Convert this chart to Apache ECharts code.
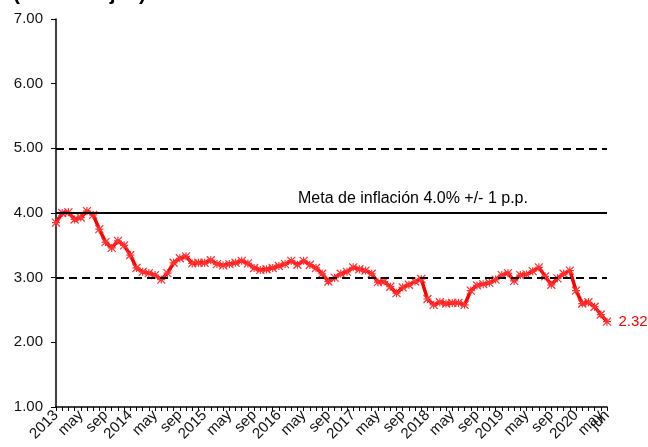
<!DOCTYPE html>
<html lang="es">
<head>
    <meta charset="UTF-8">
    <title>Inflación</title>
    <style>
        html, body { margin: 0; padding: 0; background: #fff; }
        #main { width: 648px; height: 447px; }
    </style>
</head>
<body>
<div id="main"></div>
<script src="https://cdn.jsdelivr.net/npm/echarts@6/dist/echarts.min.js"></script>
<script>
    // datos
    var years = [2013, 2014, 2015, 2016, 2017, 2018, 2019, 2020];
    var monthNames = ['ene','feb','mar','abr','may','jun','jul','ago','sep','oct','nov','dic'];
    var lastMonth = 6; // jun 2020
    var values = [
        3.85, 4.00, 4.01, 3.90, 3.93, 4.03, 3.97, 3.75, 3.55, 3.46, 3.57, 3.50,
        3.35, 3.15, 3.09, 3.07, 3.04, 2.97, 3.07, 3.23, 3.30, 3.33, 3.22, 3.23,
        3.23, 3.27, 3.21, 3.19, 3.21, 3.23, 3.26, 3.22, 3.15, 3.12, 3.13, 3.15,
        3.18, 3.21, 3.26, 3.20, 3.26, 3.20, 3.15, 3.06, 2.94, 3.00, 3.06, 3.09,
        3.16, 3.13, 3.11, 3.06, 2.93, 2.94, 2.86, 2.76, 2.85, 2.89, 2.94, 2.98,
        2.67, 2.58, 2.62, 2.60, 2.61, 2.61, 2.58, 2.80, 2.88, 2.90, 2.92, 2.97,
        3.04, 3.07, 2.95, 3.04, 3.05, 3.10, 3.16, 3.02, 2.89, 2.99, 3.06, 3.11,
        2.80, 2.60, 2.62, 2.55, 2.43, 2.32
    ];
    var metaCentro = 4;
    var rangoInf = 3;
    var rangoSup = 5;
    var metaTexto = 'Meta de inflación 4.0% +/- 1 p.p.';

    var categories = [];
    years.forEach(function (y) {
        for (var m = 0; m < 12; m++) {
            if (y === 2020 && m >= lastMonth) break;
            categories.push(m === 0 ? String(y) : monthNames[m]);
        }
    });

    var lastIdx = values.length - 1;
    var seriesData = values.map(function (v, i) {
        if (i !== lastIdx) return v;
        return {
            value: v,
            label: {
                show: true, position: 'right', distance: 5,
                formatter: v.toFixed(2), color: '#ff0000',
                fontSize: 15, fontFamily: 'Liberation Sans'
            }
        };
    });

    var labelStyle = { rotate: 45, fontSize: 15, color: '#111', margin: 6 };

    var chart = echarts.init(document.getElementById('main'));
    chart.setOption({
        animation: false,
        textStyle: { fontFamily: 'Liberation Sans' },
        title: {
            text: '(Porcentajes)',
            left: 8, top: -21,
            textStyle: { fontSize: 21, fontWeight: 'bold', color: '#000', fontFamily: 'Liberation Sans' }
        },
        grid: { left: 56, right: 41, top: 19, bottom: 40, containLabel: false },
        xAxis: [{
            type: 'category',
            data: categories,
            boundaryGap: false,
            axisLine: { lineStyle: { color: '#000', width: 1.5 } },
            axisTick: { show: true, interval: 0, length: 4, lineStyle: { color: '#000' } },
            axisLabel: Object.assign({}, labelStyle, {
                interval: function (i) { return i % 4 === 0; }
            }),
            splitLine: { show: false }
        }, {
            // solo la etiqueta del último mes (se superpone con "may")
            type: 'category',
            data: categories,
            boundaryGap: false,
            position: 'bottom',
            axisLine: { show: false },
            axisTick: { show: false },
            axisLabel: Object.assign({}, labelStyle, {
                interval: function (i) { return i === lastIdx; }
            }),
            splitLine: { show: false }
        }],
        yAxis: {
            type: 'value',
            min: 1, max: 7, interval: 1,
            axisLine: { show: true, lineStyle: { color: '#000', width: 1.5 } },
            axisTick: { show: true, length: 5, lineStyle: { color: '#000' } },
            axisLabel: { fontSize: 15, color: '#111', margin: 13, formatter: function (v) { return v.toFixed(2); } },
            splitLine: { show: false }
        },
        graphic: [{
            type: 'text',
            left: 298, top: 191,
            style: { text: metaTexto, fontSize: 16, fill: '#000', fontFamily: 'Liberation Sans' }
        }],
        series: [{
            type: 'line',
            data: seriesData,
            color: '#ff0000',
            lineStyle: { color: '#ff0000', width: 3.5 },
            showAllSymbol: true,
            symbol: 'path://M0,0L10,10M10,0L0,10M5,0L5,10M0,5L10,5',
            symbolSize: 8,
            itemStyle: { color: 'none', borderColor: '#ff3030', borderWidth: 1.2 },
            markLine: {
                silent: true,
                symbol: 'none',
                label: { show: false },
                data: [
                    { yAxis: rangoInf, lineStyle: { type: [8, 5], color: '#000', width: 2 } },
                    { yAxis: metaCentro, lineStyle: { type: 'solid', color: '#000', width: 2 } },
                    { yAxis: rangoSup, lineStyle: { type: [8, 5], color: '#000', width: 2 } }
                ]
            },
            z: 3
        }]
    });
</script>
</body>
</html>
